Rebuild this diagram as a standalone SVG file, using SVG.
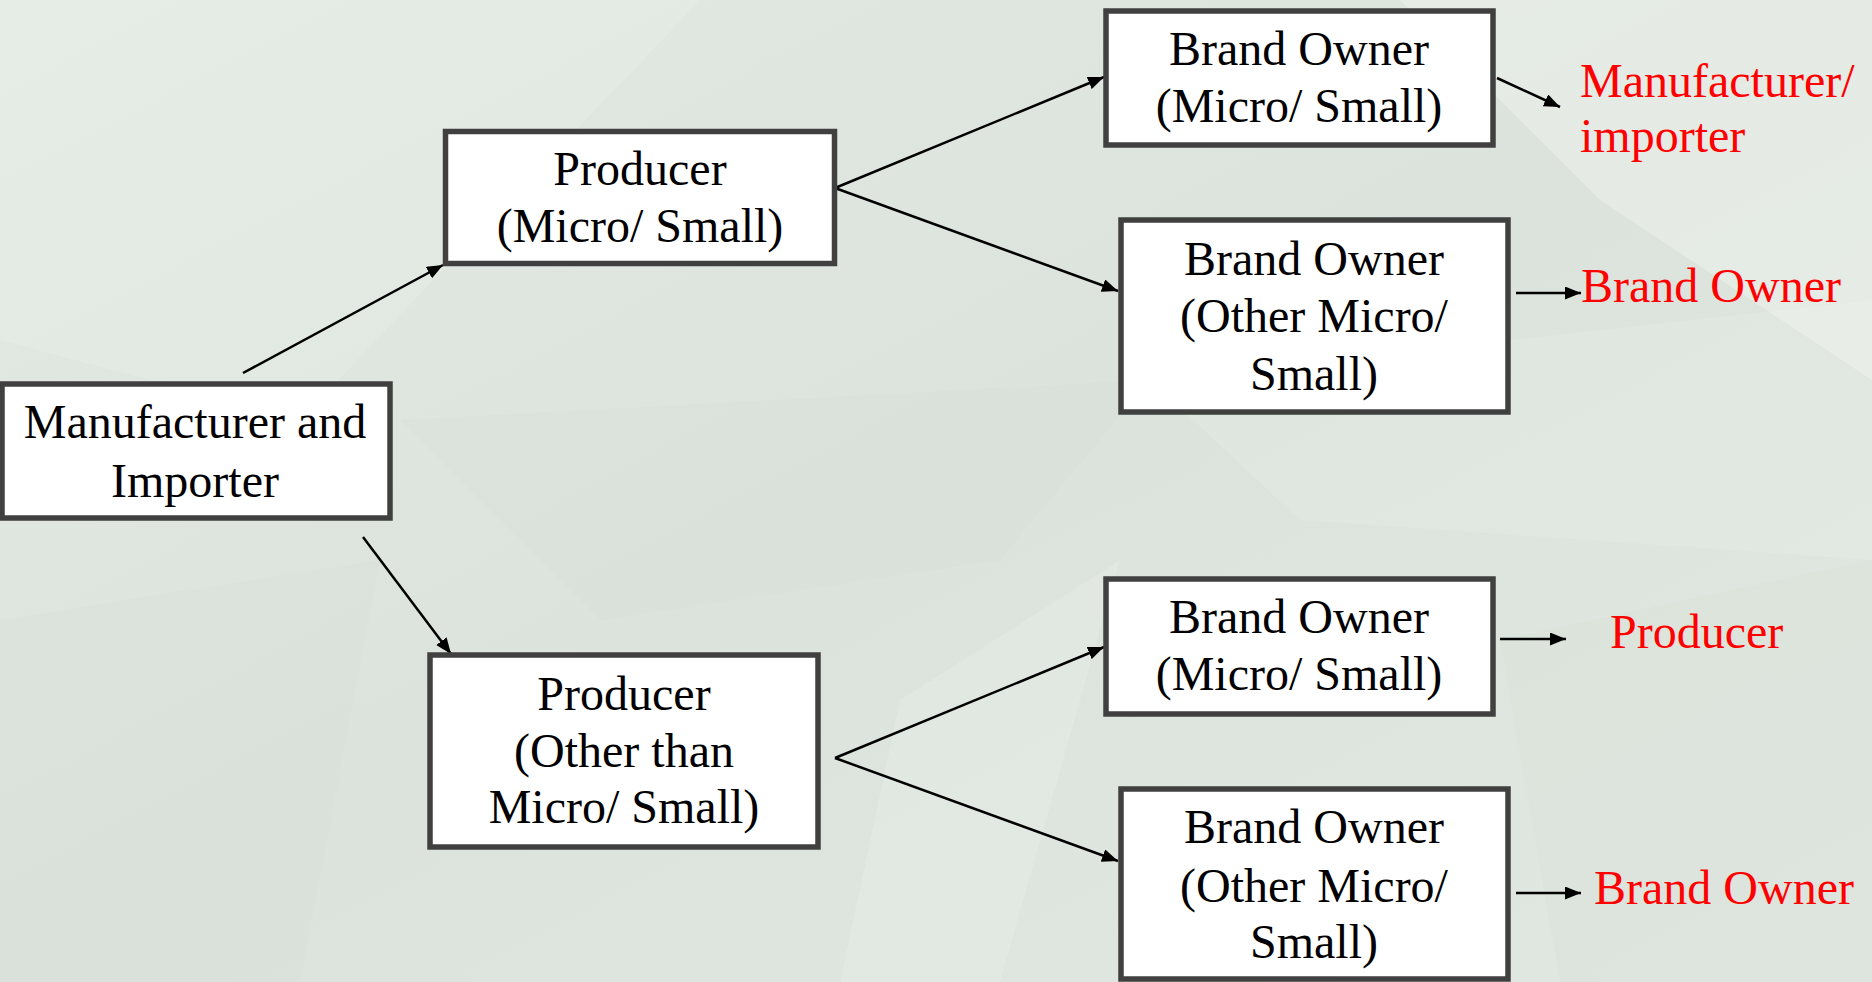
<svg xmlns="http://www.w3.org/2000/svg" width="1872" height="982" viewBox="0 0 1872 982">
<defs>
<style>
.box{fill:#ffffff;stroke:#404040;stroke-width:5.5}
.t{font-family:"Liberation Serif","Times New Roman",serif;font-size:48px;fill:#000;text-anchor:middle}
.r{font-family:"Liberation Serif","Times New Roman",serif;font-size:48px;fill:#ff0000}
.c{stroke:#000;stroke-width:2.5;fill:none;marker-end:url(#ah)}
</style>
<marker id="ah" markerUnits="userSpaceOnUse" markerWidth="17" markerHeight="13" refX="16" refY="6.5" orient="auto">
<path d="M0,0 L16,6.5 L0,13 z" fill="#000"/>
</marker>
<linearGradient id="bg" x1="0" y1="0" x2="1" y2="1">
<stop offset="0" stop-color="#e3eae3"/>
<stop offset="0.5" stop-color="#dce3dc"/>
<stop offset="1" stop-color="#e1e8e1"/>
</linearGradient>
</defs>
<g id="background">
<rect x="0" y="0" width="1872" height="982" fill="url(#bg)"/>
<polygon points="0,0 700,0 300,420 0,340" fill="#ffffff" opacity="0.12"/>
<polygon points="1400,0 1872,0 1872,380 1600,200" fill="#ffffff" opacity="0.25"/>
<polygon points="400,420 1150,380 1000,560 600,620" fill="#cdd5cd" opacity="0.15"/>
<polygon points="1150,380 1872,300 1872,560 1300,520" fill="#ffffff" opacity="0.1"/>
<polygon points="0,620 380,560 300,982 0,982" fill="#cdd5cd" opacity="0.15"/>
<polygon points="900,700 1120,560 1000,982 840,982" fill="#ffffff" opacity="0.12"/>
<polygon points="1500,640 1872,560 1872,982 1560,982" fill="#d2dad2" opacity="0.2"/>
</g>
<g id="connectors">
<line class="c" x1="243" y1="373" x2="443" y2="265"/>
<line class="c" x1="363" y1="537" x2="451" y2="654"/>
<line class="c" x1="835" y1="188" x2="1104" y2="77"/>
<line class="c" x1="835" y1="188" x2="1118" y2="291"/>
<line class="c" x1="835" y1="758" x2="1104" y2="647"/>
<line class="c" x1="835" y1="758" x2="1118" y2="861"/>
<line class="c" x1="1497" y1="78" x2="1560" y2="107"/>
<line class="c" x1="1516" y1="293" x2="1581" y2="293"/>
<line class="c" x1="1500" y1="639" x2="1566" y2="639"/>
<line class="c" x1="1516" y1="893" x2="1581" y2="893"/>
</g>
<g id="node-manufacturer-importer">
<rect class="box" x="2" y="384" width="388" height="134"/>
<text class="t" x="195" y="438">Manufacturer and</text>
<text class="t" x="195" y="497">Importer</text>
</g>
<g id="node-producer-micro-small">
<rect class="box" x="445.5" y="131.5" width="389" height="132"/>
<text class="t" x="640" y="185">Producer</text>
<text class="t" x="640" y="242">(Micro/ Small)</text>
</g>
<g id="node-producer-other">
<rect class="box" x="430" y="655" width="388" height="192"/>
<text class="t" x="624" y="710">Producer</text>
<text class="t" x="624" y="767">(Other than</text>
<text class="t" x="624" y="823">Micro/ Small)</text>
</g>
<g id="node-brand-owner-1">
<rect class="box" x="1106" y="11" width="387" height="134"/>
<text class="t" x="1299" y="65">Brand Owner</text>
<text class="t" x="1299" y="122">(Micro/ Small)</text>
</g>
<g id="node-brand-owner-2">
<rect class="box" x="1121" y="220" width="387" height="192"/>
<text class="t" x="1314" y="275">Brand Owner</text>
<text class="t" x="1314" y="332">(Other Micro/</text>
<text class="t" x="1314" y="390">Small)</text>
</g>
<g id="node-brand-owner-3">
<rect class="box" x="1106" y="579" width="387" height="135"/>
<text class="t" x="1299" y="633">Brand Owner</text>
<text class="t" x="1299" y="690">(Micro/ Small)</text>
</g>
<g id="node-brand-owner-4">
<rect class="box" x="1121" y="789" width="387" height="190"/>
<text class="t" x="1314" y="843">Brand Owner</text>
<text class="t" x="1314" y="902">(Other Micro/</text>
<text class="t" x="1314" y="958">Small)</text>
</g>
<g id="labels">
<text class="r" x="1580" y="97">Manufacturer/</text>
<text class="r" x="1580" y="152">importer</text>
<text class="r" x="1581" y="302">Brand Owner</text>
<text class="r" x="1610" y="648">Producer</text>
<text class="r" x="1594" y="904">Brand Owner</text>
</g>
</svg>
